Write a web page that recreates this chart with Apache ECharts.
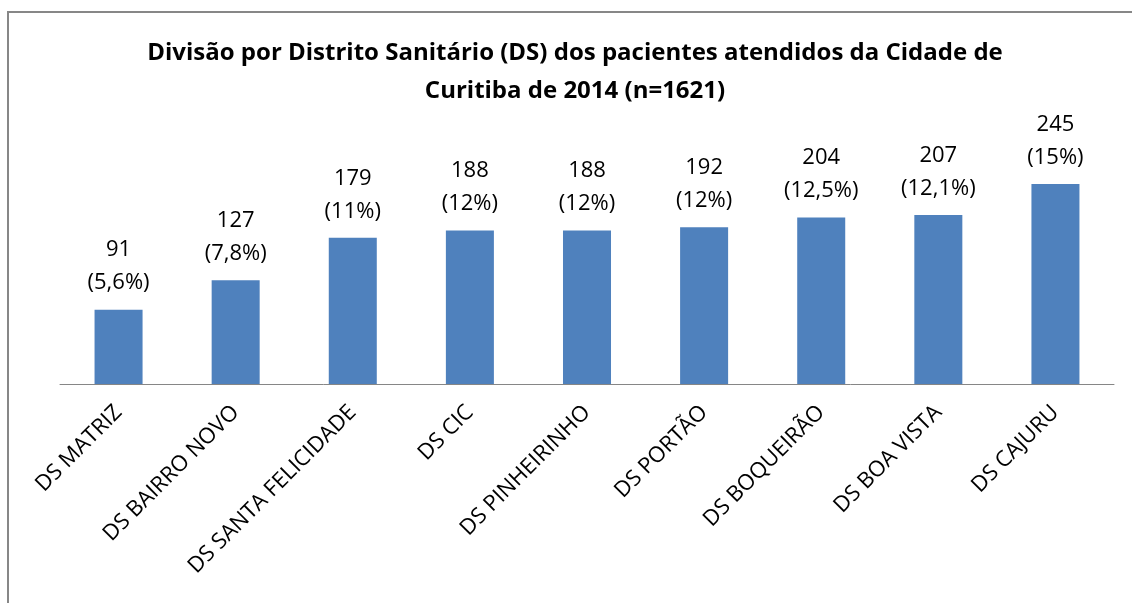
<!DOCTYPE html>
<html>
<head>
<meta charset="utf-8">
<script src="https://cdn.jsdelivr.net/npm/echarts@6/dist/echarts.min.js"></script>
<style>
  html, body { margin: 0; padding: 0; background: #fff; }
  #chart { width: 1132px; height: 603px; }
</style>
</head>
<body>
<div id="chart"></div>
<script>
const categorias = ['DS MATRIZ', 'DS BAIRRO NOVO', 'DS SANTA FELICIDADE', 'DS CIC', 'DS PINHEIRINHO', 'DS PORTÃO', 'DS BOQUEIRÃO', 'DS BOA VISTA', 'DS CAJURU'];
const pacientes = [91, 127, 179, 188, 188, 192, 204, 207, 245];
const percentuais = ['5,6%', '7,8%', '11%', '12%', '12%', '12%', '12,5%', '12,1%', '15%'];

const fonte = '"Open Sans", sans-serif';

const chart = echarts.init(document.getElementById('chart'));

const option = {
  animation: false,
  title: {
    text: 'Divisão por Distrito Sanitário (DS) dos pacientes atendidos da Cidade de\nCuritiba de 2014 (n=1621)',
    left: 575,
    top: 34,
    textAlign: 'center',
    padding: 0,
    textStyle: {
      fontFamily: fonte,
      fontSize: 24,
      fontWeight: 'bold',
      color: '#000',
      lineHeight: 38,
    },
  },
  graphic: [
    {
      type: 'rect',
      shape: { x: 8, y: 12, width: 1300, height: 800 },
      style: { fill: 'none', stroke: '#878787', lineWidth: 2 },
      silent: true,
    },
  ],
  grid: {
    left: 60,
    right: 18,
    top: 139,
    bottom: 603 - 384,
  },
  xAxis: {
    type: 'category',
    data: categorias,
    axisLine: { lineStyle: { color: '#868686', width: 1 } },
    axisTick: { show: false },
    axisLabel: {
      rotate: 45,
      margin: 25,
      interval: 0,
      fontFamily: fonte,
      fontSize: 22,
      color: '#000',
    },
  },
  yAxis: {
    type: 'value',
    min: 0,
    max: 300,
    show: false,
    splitLine: { show: false },
  },
  series: [
    {
      name: 'Pacientes',
      type: 'bar',
      data: pacientes,
      barCategoryGap: '59%',
      itemStyle: { color: '#4F81BD' },
      label: {
        show: true,
        position: 'top',
        distance: 10,
        fontFamily: fonte,
        fontSize: 22,
        lineHeight: 33,
        color: '#000',
        formatter: (p) => p.value + '\n(' + percentuais[p.dataIndex] + ')',
      },
    },
  ],
};

chart.setOption(option);
</script>
</body>
</html>
